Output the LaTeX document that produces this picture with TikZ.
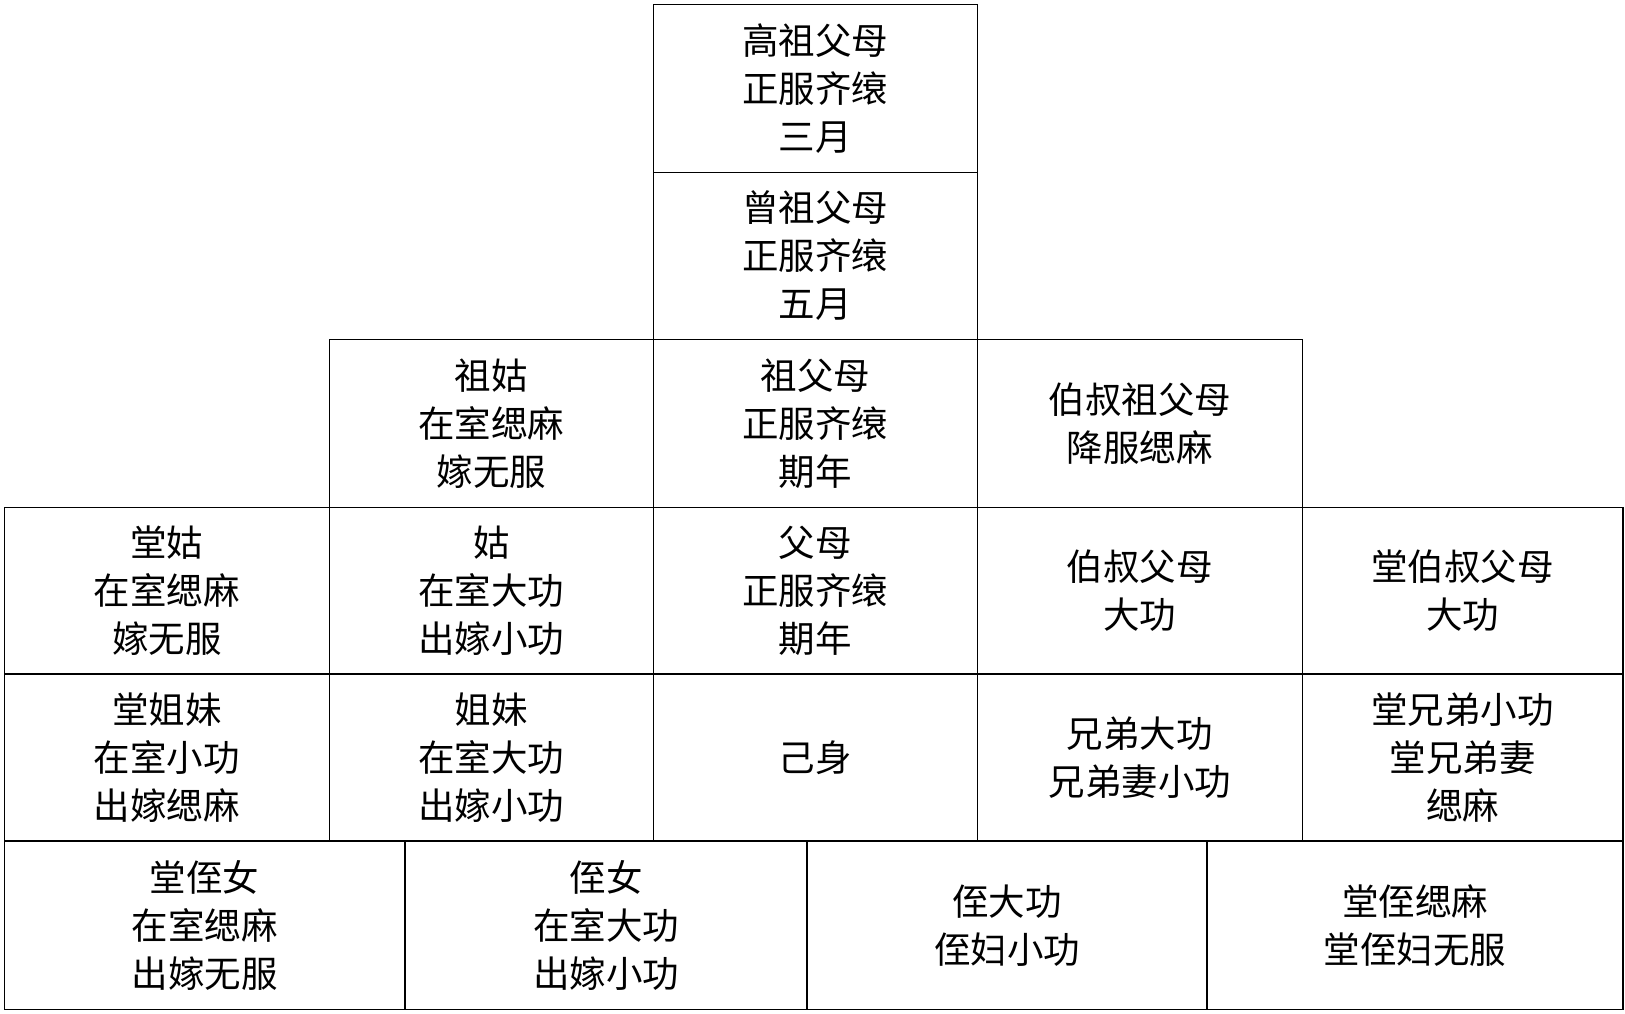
\documentclass[tikz,border=0pt]{standalone}
\usepackage{fontspec}
\setmainfont{Noto Sans CJK SC}
\newcommand\sr{\rule[-4.4pt]{0pt}{36.5pt}}
\newcommand\mycell[6]{%
  \node[cell, minimum width={(#4-#2)*1pt}, minimum height={(#5-#3)*1pt}]
    (#1) at ({(#2+#4)/2},{(#3+#5)/2}) {#6};}
\begin{document}
\begin{tikzpicture}[x=1pt,y=-1pt,
  cell/.style={draw=black, line width=1.2pt, inner sep=0pt, outer sep=0pt,
    align=center, font=\fontsize{36.5}{48}\selectfont, text=black}]
\useasboundingbox (0,0) rectangle (1625,1013);
\fill[white] (0,0) rectangle (1625,1013);
% row 0
\mycell{gaozu}{653.3}{4.3}{977.3}{172.3}{\sr 高祖父母\\\sr 正服齐缞\\\sr 三月}
% row 1
\mycell{zengzu}{653.3}{172.3}{977.3}{339.7}{\sr 曾祖父母\\\sr 正服齐缞\\\sr 五月}
% row 2
\mycell{zugu}{329.3}{339.7}{653.3}{507.3}{\sr 祖姑\\\sr 在室缌麻\\\sr 嫁无服}
\mycell{zufumu}{653.3}{339.7}{977.3}{507.3}{\sr 祖父母\\\sr 正服齐缞\\\sr 期年}
\mycell{boshuzu}{977.3}{339.7}{1302.3}{507.3}{\sr 伯叔祖父母\\\sr 降服缌麻}
% row 3
\mycell{tanggu}{4.3}{507.3}{329.3}{674}{\sr 堂姑\\\sr 在室缌麻\\\sr 嫁无服}
\mycell{gu}{329.3}{507.3}{653.3}{674}{\sr 姑\\\sr 在室大功\\\sr 出嫁小功}
\mycell{fumu}{653.3}{507.3}{977.3}{674}{\sr 父母\\\sr 正服齐缞\\\sr 期年}
\mycell{boshu}{977.3}{507.3}{1302.3}{674}{\sr 伯叔父母\\\sr 大功}
\mycell{tangboshu}{1302.3}{507.3}{1623}{674}{\sr 堂伯叔父母\\\sr 大功}
% row 4
\mycell{tangjiemei}{4.3}{674}{329.3}{841}{\sr 堂姐妹\\\sr 在室小功\\\sr 出嫁缌麻}
\mycell{jiemei}{329.3}{674}{653.3}{841}{\sr 姐妹\\\sr 在室大功\\\sr 出嫁小功}
\mycell{jishen}{653.3}{674}{977.3}{841}{\sr 己身}
\mycell{xiongdi}{977.3}{674}{1302.3}{841}{\sr 兄弟大功\\\sr 兄弟妻小功}
\mycell{tangxiongdi}{1302.3}{674}{1623}{841}{\sr 堂兄弟小功\\\sr 堂兄弟妻\\\sr 缌麻}
% row 5
\mycell{tangzhinv}{4.3}{841}{405}{1009.5}{\sr 堂侄女\\\sr 在室缌麻\\\sr 出嫁无服}
\mycell{zhinv}{405}{841}{807}{1009.5}{\sr 侄女\\\sr 在室大功\\\sr 出嫁小功}
\mycell{zhi}{807}{841}{1207}{1009.5}{\sr 侄大功\\\sr 侄妇小功}
\mycell{tangzhi}{1207}{841}{1623}{1009.5}{\sr 堂侄缌麻\\\sr 堂侄妇无服}
\end{tikzpicture}
\end{document}
